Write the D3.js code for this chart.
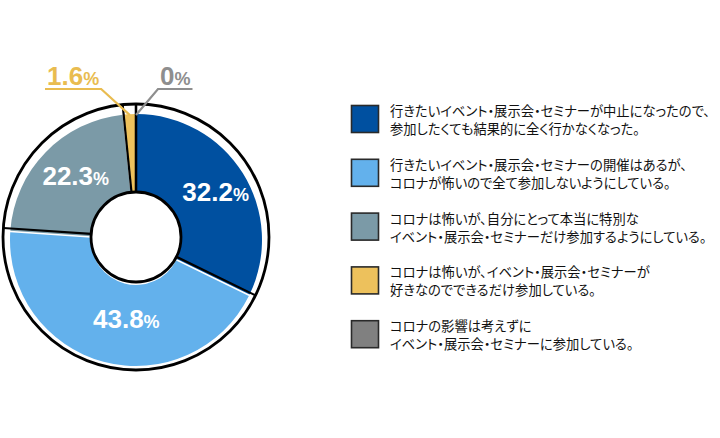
<!DOCTYPE html>
<html><head><meta charset="utf-8">
<script src="https://cdn.jsdelivr.net/npm/d3@7"></script>
<style>
body{margin:0;background:#fff;}
svg{display:block;}
.jp{font-family:"Noto Sans CJK JP","Noto Sans",sans-serif;font-feature-settings:"palt";}
.num{font-family:"Liberation Sans",Arial,sans-serif;font-weight:bold;}
</style></head>
<body>
<script>
const categories = [
  ["行きたいイベント・展示会・セミナーが中止になったので、","参加したくても結果的に全く行かなくなった。"],
  ["行きたいイベント・展示会・セミナーの開催はあるが、","コロナが怖いので全て参加しないようにしている。"],
  ["コロナは怖いが、自分にとって本当に特別な","イベント・展示会・セミナーだけ参加するようにしている。"],
  ["コロナは怖いが、イベント・展示会・セミナーが","好きなのでできるだけ参加している。"],
  ["コロナの影響は考えずに","イベント・展示会・セミナーに参加している。"]
];
const values = [32.2, 43.8, 22.3, 1.6, 0];
const labelNums = ["32.2", "43.8", "22.3", "1.6", "0"];
const colors = ["#0050A0", "#63B1EC", "#7B9AA7", "#EDC15C", "#808080"];
const outsideLabelColors = [null, null, null, "#E9BC50", "#8E8E8E"];
// style-only nudges for inside label placement (px)
const labelNudgeX = [5, 13, 3];
const labelNudgeY = [2, -3, 0];

const W = 720, H = 438;
const svg = d3.select("body").append("svg").attr("width", W).attr("height", H);

const cx = 136, cy = 237;
const rOuter = 133, rInner = 45, rFill = 126;

const pie = d3.pie().sort(null).value(d => d)(values);
const arcFill = d3.arc().innerRadius(rInner).outerRadius(rFill).padAngle(0.012);

const gFill = svg.append("g").attr("transform", `translate(${cx},${cy + 3})`);
gFill.selectAll("path").data(pie).join("path")
  .attr("d", arcFill).attr("fill", (d, i) => colors[i]);

const g = svg.append("g").attr("transform", `translate(${cx},${cy})`);
g.append("circle").attr("r", rOuter).attr("fill", "none").attr("stroke", "#000").attr("stroke-width", 2.8);
const bounds = pie.map(d => d.startAngle).concat([pie[3].endAngle]);
g.selectAll("line.sep").data(bounds).join("line").attr("class", "sep")
  .attr("x1", a => Math.sin(a) * rInner).attr("y1", a => -Math.cos(a) * rInner)
  .attr("x2", a => Math.sin(a) * rOuter).attr("y2", a => -Math.cos(a) * rOuter)
  .attr("stroke", "#000").attr("stroke-width", 2.2);
g.append("circle").attr("r", rInner).attr("fill", "#fff").attr("stroke", "#000").attr("stroke-width", 2.8);

const arcLabel = d3.arc().innerRadius(88).outerRadius(88);
pie.forEach((d, i) => {
  if (values[i] < 5) return;
  const [x, y] = arcLabel.centroid(d);
  const t = g.append("text").attr("class", "num")
    .attr("x", x + labelNudgeX[i]).attr("y", y + 9 + labelNudgeY[i])
    .attr("text-anchor", "middle").attr("fill", "#fff");
  t.append("tspan").attr("font-size", 26).text(labelNums[i]);
  t.append("tspan").attr("font-size", 18).text("%");
});

const outs = [
  {i: 3, tx: 47, dir: -1},
  {i: 4, tx: 160, dir: 1}
];
outs.forEach(o => {
  const d = pie[o.i];
  const a = (d.startAngle + d.endAngle) / 2;
  const px = cx + Math.sin(a) * 122, py = cy - Math.cos(a) * 122;
  const t = svg.append("text").attr("class", "num").attr("x", o.tx).attr("y", 85)
    .attr("fill", outsideLabelColors[o.i]);
  t.append("tspan").attr("font-size", 26).text(labelNums[o.i]);
  t.append("tspan").attr("font-size", 18).text("%");
  const w = t.node().getComputedTextLength();
  const ux0 = o.tx - 2, ux1 = o.tx + w + 2;
  const knee = o.dir < 0 ? ux1 : ux0;
  const far = o.dir < 0 ? ux0 : ux1;
  svg.append("polyline")
    .attr("points", `${far},89 ${knee},89 ${px},${py}`)
    .attr("fill", "none").attr("stroke", outsideLabelColors[o.i]).attr("stroke-width", 2.2);
});

const lg = svg.append("g").attr("transform", "translate(351,105)");
const item = lg.selectAll("g").data(categories).join("g")
  .attr("transform", (d, i) => `translate(0,${i * 53.8})`);
item.append("rect").attr("x", 0.5).attr("y", 0.5).attr("width", 27).attr("height", 27)
  .attr("fill", (d, i) => colors[i]).attr("stroke", "#2a2a2a").attr("stroke-width", 1.6);
item.append("text").attr("class", "jp").attr("x", 39).attr("y", 11)
  .attr("font-size", 13.3).attr("fill", "#111")
  .selectAll("tspan").data(d => d).join("tspan")
  .attr("x", 39).attr("dy", (d, j) => j === 0 ? 0 : 18).text(d => d);
</script>
</body></html>
